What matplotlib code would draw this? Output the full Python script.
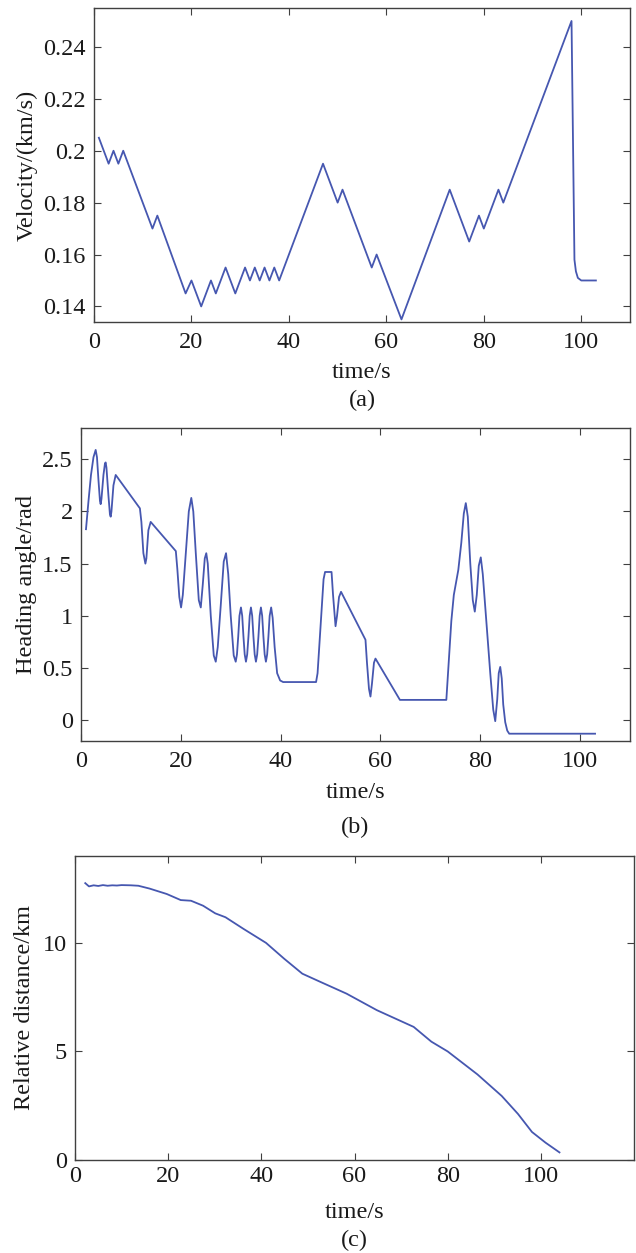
import matplotlib
matplotlib.use('Agg')
import matplotlib.pyplot as plt

plt.rcParams['font.family'] = ['Liberation Serif', 'DejaVu Serif']

# (a) velocity
vel_t = [1, 3, 4, 5, 6, 12, 13, 18.8, 20, 22, 24, 25, 27, 29, 31, 32, 33, 34,
         35, 36, 37, 38, 47, 50, 51, 57, 58, 63.1, 73, 77, 79, 80, 83, 84,
         98, 98.6, 98.9, 99.3, 100, 103]
vel_v = [0.205, 0.195, 0.2, 0.195, 0.2, 0.17, 0.175, 0.145, 0.15, 0.14, 0.15,
         0.145, 0.155, 0.145, 0.155, 0.15, 0.155, 0.15, 0.155, 0.15, 0.155,
         0.15, 0.195, 0.18, 0.185, 0.155, 0.16, 0.135, 0.185, 0.165, 0.175,
         0.17, 0.185, 0.18, 0.25, 0.158, 0.1535, 0.151, 0.15, 0.15]

# (b) heading angle
head_t = [1, 1.5, 2.0, 2.5, 2.94, 3.2, 3.5, 3.8, 3.94, 4.1, 4.5, 4.8, 4.94,
          5.1, 5.5, 5.8, 5.95, 6.1, 6.5, 6.95,
          11.8, 12.1, 12.5, 12.9, 13.1, 13.5, 13.96,
          19, 19.3, 19.7, 20.05, 20.4, 21, 21.6, 22.1, 22.5, 23, 23.6, 24,
          24.4, 24.8, 25.1, 25.4, 26, 26.6, 27, 27.4, 28, 28.6, 29.06, 29.5,
          30, 30.6, 31, 31.25, 31.5, 31.75, 32.05, 32.3, 32.55, 32.8, 33.05,
          33.3, 33.55, 33.8, 34.05, 34.3, 34.55, 34.8, 35.05, 35.3, 35.55,
          35.8, 36.05, 36.3, 36.55, 36.8, 37.05, 37.3, 37.55, 37.8, 38.1,
          38.4, 38.8, 39.3, 39.9, 40.5, 47.1, 47.4, 48, 48.6, 48.9, 50.2,
          50.5, 51.0, 51.3, 51.7, 52.1, 57, 57.3, 57.7, 58, 58.3, 58.7, 59,
          63.9, 73.2, 73.6, 74.2, 74.7, 75.6, 76.2, 76.7, 77.1, 77.5, 78.0,
          78.5, 78.9, 79.3, 79.7, 80.1, 80.5, 81.2, 82, 82.6, 83, 83.4, 83.7,
          84, 84.3, 84.6, 85, 85.4, 85.8, 103]
head_h = [1.83, 2.1, 2.35, 2.52, 2.59, 2.52, 2.3, 2.1, 2.07, 2.12, 2.35, 2.46,
          2.47, 2.42, 2.15, 1.97, 1.95, 2.0, 2.25, 2.35,
          2.03, 1.9, 1.6, 1.5, 1.55, 1.82, 1.9,
          1.62, 1.45, 1.18, 1.08, 1.2, 1.6, 2.0, 2.13, 2.0, 1.6, 1.15, 1.08,
          1.3, 1.55, 1.6, 1.5, 1.0, 0.62, 0.56, 0.7, 1.1, 1.52, 1.6, 1.4,
          1.0, 0.62, 0.56, 0.63, 0.8, 1.0, 1.08, 1.0, 0.8, 0.63, 0.56,
          0.63, 0.8, 1.0, 1.08, 1.0, 0.8, 0.63, 0.56, 0.63, 0.8,
          1.0, 1.08, 1.0, 0.8, 0.63, 0.56, 0.63, 0.8, 1.0, 1.08,
          0.98, 0.7, 0.45, 0.38, 0.365, 0.365, 0.45, 0.9, 1.35, 1.42, 1.42,
          1.2, 0.9, 1.0, 1.18, 1.23, 0.77, 0.55, 0.3, 0.226, 0.35, 0.55, 0.59,
          0.194, 0.194, 0.5, 0.95, 1.2, 1.44, 1.7, 1.98, 2.08, 1.95, 1.5,
          1.15, 1.04, 1.2, 1.48, 1.56, 1.4, 0.95, 0.45, 0.1, -0.01, 0.2, 0.45,
          0.51, 0.4, 0.15, -0.02, -0.1, -0.13, -0.13]

# (c) relative distance
dist_t = [2.2, 3, 4, 5, 6, 7, 8, 9, 10, 12, 13.6, 16, 19.7, 22.7, 24.9, 27.5,
          30.1, 32.3, 36.2, 41, 44.9, 48.8, 52.7, 58.3, 64.8, 72.7, 76.5, 80,
          86.4, 91.6, 95.1, 98.1, 101, 104]
dist_d = [12.75, 12.6, 12.65, 12.62, 12.66, 12.63, 12.65, 12.64, 12.66,
          12.65, 12.63, 12.5, 12.25, 11.97, 11.94, 11.71, 11.36, 11.18, 10.64,
          10.0, 9.27, 8.58, 8.2, 7.66, 6.9, 6.13, 5.45, 5.0, 3.94, 2.95, 2.12,
          1.29, 0.8, 0.35]

x_ticks = [0, 20, 40, 60, 80, 100]
vel_ticks = [0.14, 0.16, 0.18, 0.2, 0.22, 0.24]
vel_labels = ['0.14', '0.16', '0.18', '0.2', '0.22', '0.24']
head_ticks = [0, 0.5, 1, 1.5, 2, 2.5]
head_labels = ['0', '0.5', '1', '1.5', '2', '2.5']
dist_ticks = [0, 5, 10]
dist_labels = ['0', '5', '10']

W, H = 636, 1253
LINE = '#4657b0'
TXT = '#1a1a1a'
FS = 17.5

fig = plt.figure(figsize=(W / 100, H / 100), dpi=100)


def make_axes(left, right, top, bottom):
    return fig.add_axes([left / W, 1 - bottom / H, (right - left) / W,
                         (bottom - top) / H])


def style(ax, xlim, ylim, yticks, ylabels, ylabel, ylab_x, xlab_y, cap_y, cap,
          xpad=7):
    ax.set_xlim(*xlim)
    ax.set_ylim(*ylim)
    ax.set_xticks(x_ticks)
    ax.set_xticklabels([str(v) for v in x_ticks])
    ax.set_yticks(yticks)
    ax.set_yticklabels(ylabels)
    ax.tick_params(direction='in', length=5, width=0.8, top=True, right=True,
                   labelsize=FS, labelcolor=TXT, colors='#404040', pad=6)
    ax.tick_params(axis='x', pad=xpad)
    for s in ax.spines.values():
        s.set_color('#404040')
        s.set_linewidth(1.0)
    pos = ax.get_position()
    cx = pos.x0 + pos.width / 2
    cy = pos.y0 + pos.height / 2
    fig.text(ylab_x / W, cy, ylabel, rotation=90, ha='center', va='center',
             fontsize=FS, color=TXT)
    fig.text(cx, 1 - xlab_y / H, 'time/s', ha='center', va='center',
             fontsize=FS, color=TXT)
    fig.text(cx, 1 - cap_y / H, cap, ha='center', va='center',
             fontsize=FS, color=TXT)


ax1 = make_axes(94, 630, 8, 322)
ax1.plot(vel_t, vel_v, color=LINE, linewidth=1.3)
style(ax1, (0, 110), (0.134, 0.255), vel_ticks, vel_labels,
      'Velocity/(km/s)', 27, 373, 400, '(a)')

ax2 = make_axes(81, 630, 428, 741)
ax2.plot(head_t, head_h, color=LINE, linewidth=1.3)
style(ax2, (0, 110), (-0.2, 2.8), head_ticks, head_labels,
      'Heading angle/rad', 27, 792, 827, '(b)')

ax3 = make_axes(75, 634, 856, 1160)
ax3.plot(dist_t, dist_d, color=LINE, linewidth=1.3)
style(ax3, (0, 120), (0, 14), dist_ticks, dist_labels,
      'Relative distance/km', 25, 1212, 1240, '(c)', xpad=4)

fig.savefig('out.png', dpi=100)
